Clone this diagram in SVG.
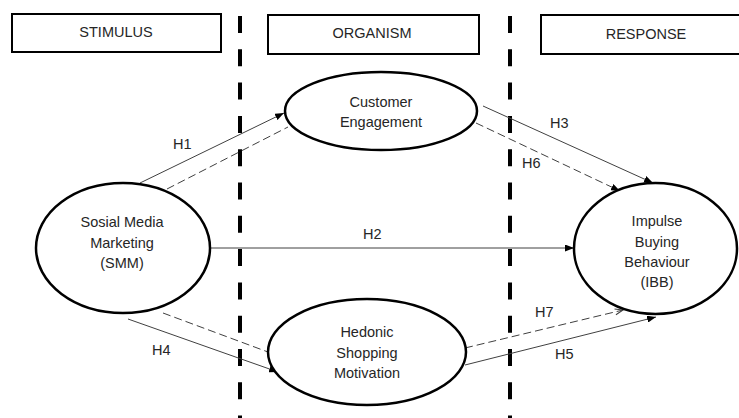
<svg xmlns="http://www.w3.org/2000/svg" width="739" height="418" viewBox="0 0 739 418">
<defs>
<style>
text{font-family:"Liberation Sans",Arial,sans-serif;font-size:14.5px;fill:#262626}
.c{text-anchor:middle}
.box{fill:#fff;stroke:#000;stroke-width:2}
.node{fill:#fff;stroke:#000;stroke-width:2.5}
.div{stroke:#000;stroke-width:4;stroke-dasharray:17 16.3}
.s{stroke:#404040;stroke-width:1;fill:none}
.d{stroke:#404040;stroke-width:1;fill:none;stroke-dasharray:8 4}
</style>
<marker id="ah" markerUnits="userSpaceOnUse" markerWidth="9" markerHeight="7" refX="9" refY="3.5" orient="auto"><path d="M0,0 L9,3.5 L0,7 z" fill="#000"/></marker>
<marker id="ao" markerUnits="userSpaceOnUse" markerWidth="10" markerHeight="8" refX="9" refY="4" orient="auto"><path d="M1,1 L9,4 L1,7" fill="none" stroke="#404040" stroke-width="1"/></marker>
</defs>
<rect width="739" height="418" fill="#fff"/>
<g id="dividers">
<line class="div" x1="240" y1="16" x2="240" y2="418"/>
<line class="div" x1="510" y1="16" x2="510" y2="418"/>
</g>
<g id="stimulus"><rect class="box" x="12" y="14" width="209" height="38"/><text class="c" x="116" y="37">STIMULUS</text></g>
<g id="organism"><rect class="box" x="268" y="15" width="211" height="39"/><text class="c" x="372" y="38">ORGANISM</text></g>
<g id="response"><rect class="box" x="541" y="15" width="205" height="39"/><text class="c" x="646" y="39">RESPONSE</text></g>
<g id="connectors">
<line class="s" x1="140" y1="183" x2="284" y2="113" marker-end="url(#ah)"/>
<line class="d" x1="167" y1="189" x2="288" y2="127"/>
<line class="s" x1="483" y1="106" x2="653" y2="183" marker-end="url(#ah)"/>
<line class="d" x1="476" y1="123" x2="620" y2="191" marker-end="url(#ah)"/>
<line class="s" x1="210" y1="248" x2="574" y2="248" marker-end="url(#ah)"/>
<line class="d" x1="163" y1="313" x2="268" y2="352"/>
<line class="s" x1="128" y1="319" x2="278" y2="372" marker-end="url(#ah)"/>
<line class="d" x1="465" y1="348" x2="623" y2="310" marker-end="url(#ao)"/>
<line class="s" x1="465" y1="365" x2="656" y2="317" marker-end="url(#ah)"/>
<text x="173" y="149">H1</text>
<text x="363" y="239">H2</text>
<text x="550" y="128">H3</text>
<text x="522" y="168">H6</text>
<text x="152" y="355">H4</text>
<text x="535" y="317">H7</text>
<text x="555" y="359">H5</text>
</g>
<g id="ce"><ellipse class="node" cx="381" cy="111" rx="96" ry="39"/><text class="c" x="381" y="107">Customer</text><text class="c" x="381" y="127">Engagement</text></g>
<g id="smm"><ellipse class="node" cx="123" cy="248" rx="87" ry="65"/><text class="c" x="122" y="227">Sosial Media</text><text class="c" x="122" y="248">Marketing</text><text class="c" x="122" y="268">(SMM)</text></g>
<g id="hsm"><ellipse class="node" cx="367" cy="352" rx="99" ry="53"/><text class="c" x="367" y="337">Hedonic</text><text class="c" x="367" y="358">Shopping</text><text class="c" x="367" y="378">Motivation</text></g>
<g id="ibb"><ellipse class="node" cx="655.5" cy="248.5" rx="81.5" ry="65.5"/><text class="c" x="657" y="226">Impulse</text><text class="c" x="657" y="247">Buying</text><text class="c" x="657" y="267">Behaviour</text><text class="c" x="657" y="287">(IBB)</text></g>
</svg>
